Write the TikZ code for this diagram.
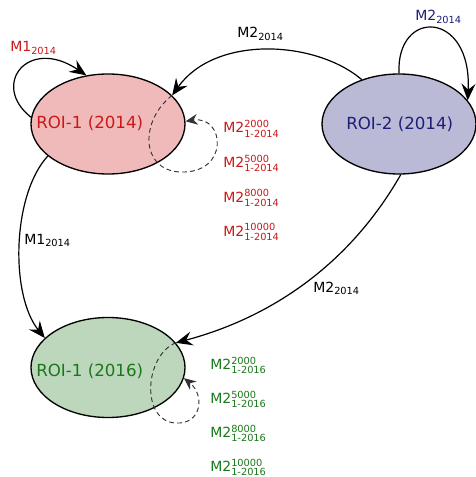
\documentclass[tikz,border=0pt]{standalone}
\usepackage{amsmath}
\usepackage{fontspec}
\setmainfont{DejaVu Sans}
\usetikzlibrary{shapes.geometric,arrows.meta}
\definecolor{pinkfill}{HTML}{F0BABA}
\definecolor{bluefill}{HTML}{BABAD7}
\definecolor{greenfill}{HTML}{BCD7BC}
\definecolor{redtxt}{HTML}{CC1818}
\definecolor{navytxt}{HTML}{1E1E78}
\definecolor{greentxt}{HTML}{1A781A}
\tikzset{
  roi/.style={ellipse, draw=black, line width=1pt, minimum width=115.5pt, minimum height=75pt, inner sep=0pt},
  roitext/.style={anchor=base west, inner sep=0pt, font=\fontsize{12.5}{15}\selectfont},
  lbl/.style={anchor=base west, inner sep=0pt, font=\fontsize{10.5}{12}\selectfont},
  conn/.style={line width=0.9pt, -{Stealth[length=12.5pt,width=10.5pt,inset=4.5pt]}},
  dconn/.style={line width=0.7pt, draw=black!80, dash pattern=on 3.5pt off 2.5pt, -{Stealth[length=9pt,width=8pt,inset=3pt]}}
}
\begin{document}
\begin{tikzpicture}[x=0.75pt,y=-0.75pt]
\useasboundingbox (0,0) rectangle (475,477);
% ellipses
\node[roi, fill=pinkfill] (r1) at (108,124) {};
\node[roi, fill=bluefill] (r2) at (399,124) {};
\node[roi, fill=greenfill] (r3) at (108,367.5) {};
% ellipse texts
\node[roitext, text=redtxt] (t1) at (36,129) {ROI-1 (2014)};
\node[roitext, text=navytxt] (t2) at (346,130) {ROI-2 (2014)};
\node[roitext, text=greentxt] (t3) at (36,376) {ROI-1 (2016)};
% connectors
\draw[conn] (r1.175) .. controls (-10,85) and (28,36) .. (r1.114);
\draw[conn] (r2.130) .. controls (315,40) and (215,35) .. (r1.24);
\draw[conn] (r2.90) .. controls (396,8) and (472,10) .. (r2.19);
\draw[conn] (r1.208) .. controls (12,195) and (10,295) .. (r3.155);
\draw[conn] (r2.272) .. controls (345,272) and (262,320) .. (r3.20);
% dashed self-loops
\draw[dconn] (r1.24) .. controls (140,120) and (140,170) .. (180,172)
   .. controls (230,174) and (225,115) .. (r1.2);
\draw[dconn] (r3.20) .. controls (145,355) and (140,420) .. (175,423)
   .. controls (202,425) and (205,395) .. (r3.-8);
% labels
\node[lbl, text=redtxt] (l1) at (10,52) {M1$_{\text{2014}}$};
\node[lbl, text=black] (l2) at (237,38) {M2$_{\text{2014}}$};
\node[lbl, text=navytxt] (l3) at (415,21) {M2$_{\text{2014}}$};
\node[lbl, text=black] (l4) at (24,244) {M1$_{\text{2014}}$};
\node[lbl, text=black] (l5) at (313,292) {M2$_{\text{2014}}$};
% red stack
\node[lbl, text=redtxt] (a1) at (223,133) {M2$^{\text{2000}}_{\text{1-2014}}$};
\node[lbl, text=redtxt] (a2) at (223,167.5) {M2$^{\text{5000}}_{\text{1-2014}}$};
\node[lbl, text=redtxt] (a3) at (223,202) {M2$^{\text{8000}}_{\text{1-2014}}$};
\node[lbl, text=redtxt] (a4) at (223,236) {M2$^{\text{10000}}_{\text{1-2014}}$};
% green stack
\node[lbl, text=greentxt] (b1) at (210,369.5) {M2$^{\text{2000}}_{\text{1-2016}}$};
\node[lbl, text=greentxt] (b2) at (210,403.5) {M2$^{\text{5000}}_{\text{1-2016}}$};
\node[lbl, text=greentxt] (b3) at (210,437.5) {M2$^{\text{8000}}_{\text{1-2016}}$};
\node[lbl, text=greentxt] (b4) at (210,471.5) {M2$^{\text{10000}}_{\text{1-2016}}$};
\end{tikzpicture}
\end{document}
